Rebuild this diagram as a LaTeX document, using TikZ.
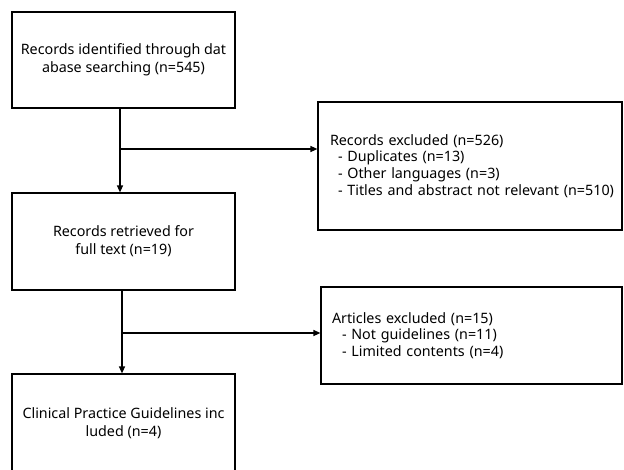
\documentclass[tikz,border=0pt]{standalone}
\usepackage{fontspec}
\setmainfont{Noto Sans}
\usepackage{tikz}
\usetikzlibrary{arrows.meta,calc}

\begin{document}
\begin{tikzpicture}[
  x=1pt, y=-1pt,
  box/.style={draw=black,line width=1.2pt,align=center,inner sep=0pt,
              font=\fontsize{14.3}{18}\selectfont},
  exbox/.style={draw=black,line width=1.2pt,align=left,inner sep=0pt,
              font=\fontsize{14.3}{16.7}\selectfont},
  arrow/.style={-{Triangle[length=7pt,width=6pt]},line width=1.2pt,draw=black}]
\useasboundingbox (0,0) rectangle (624,469);
% main column
\node[box, minimum width=223pt, minimum height=96pt] (search) at (123.5,60)
  {Records identified through dat\\abase searching (n=545)};
\node[box, minimum width=223pt, minimum height=97pt] (fulltext) at (123.5,241.5)
  {Records retrieved for\\full text (n=19)};
\node[box, minimum width=223pt, minimum height=98pt] (included) at (123.5,423)
  {Clinical Practice Guidelines inc\\luded (n=4)};
% exclusions
\node[exbox, minimum width=304pt, minimum height=128pt, text width=292pt] (recex) at (470,166)
  {\hspace*{6pt}Records excluded (n=526)\\
   \hspace*{14pt}- Duplicates (n=13)\\
   \hspace*{14pt}- Other languages (n=3)\\
   \hspace*{14pt}- Titles and abstract not relevant (n=510)};
\node[exbox, minimum width=301pt, minimum height=97pt, text width=289pt] (artex) at (471.5,335.5)
  {\hspace*{5pt}Articles excluded (n=15)\\
   \hspace*{15pt}- Not guidelines (n=11)\\
   \hspace*{15pt}- Limited contents (n=4)};
% connectors
\coordinate (split1) at (120,149);
\coordinate (split2) at (122,333);
\draw[arrow] (search.south -| split1) -- (fulltext.north -| split1);
\draw[arrow] (split1) -- (split1 -| recex.west);
\draw[arrow] (fulltext.south -| split2) -- (included.north -| split2);
\draw[arrow] (split2) -- (split2 -| artex.west);
\end{tikzpicture}
\end{document}
